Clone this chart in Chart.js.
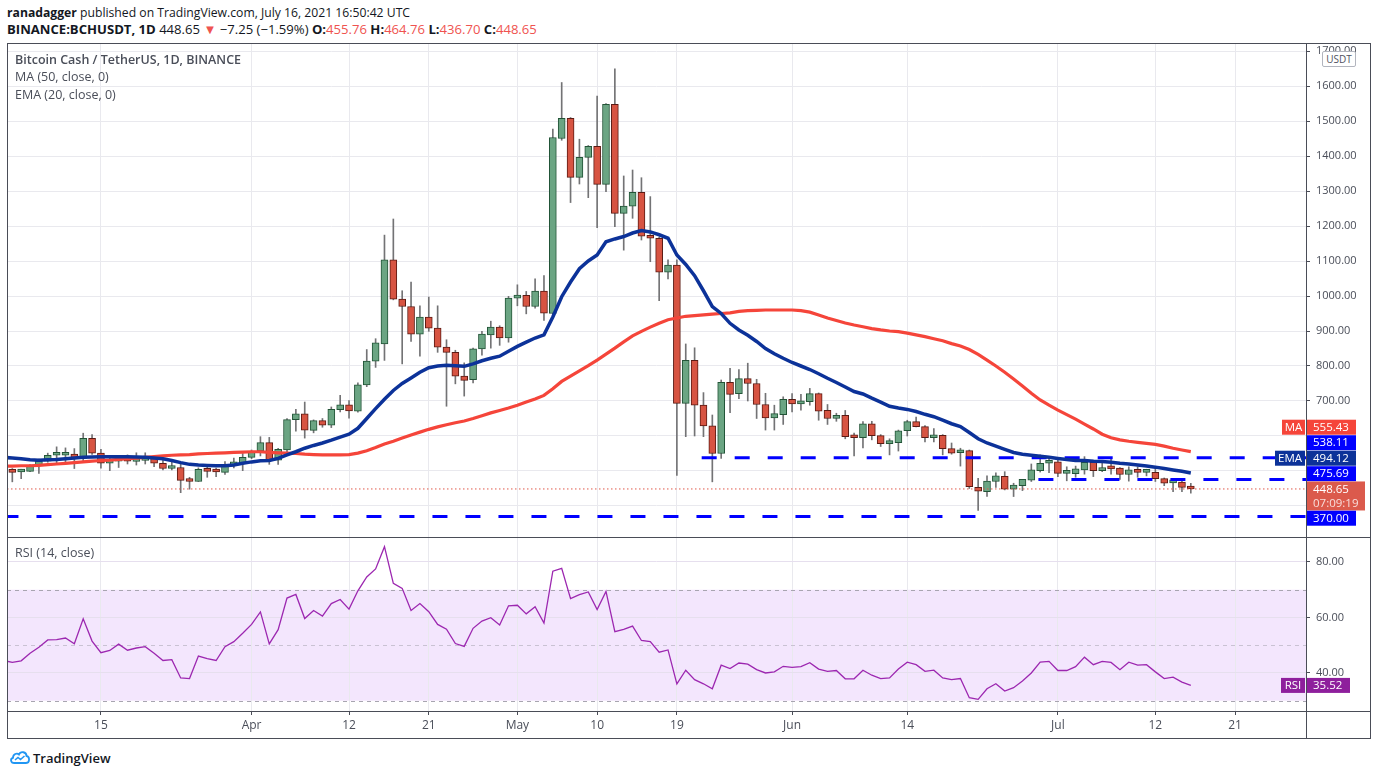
<!DOCTYPE html>
<html><head><meta charset="utf-8">
<script src="https://cdn.jsdelivr.net/npm/chart.js@4.4.1/dist/chart.umd.min.js"></script>
<style>
html,body{margin:0;padding:0;background:#fff;width:1376px;height:776px;overflow:hidden;font-family:'Open Sans',sans-serif;color:#131722;}
.abs{position:absolute;white-space:nowrap;}
.r{color:#ef5350;}
.ln{position:absolute;background:#4a4d57;}
.leg{position:absolute;left:15px;font-size:12.5px;color:#4a4e59;white-space:nowrap;}
</style></head><body>
<div class="abs" style="left:7px;top:4px;font-size:12.2px;"><b>ranadagger</b> published on TradingView.com, July 16, 2021 16:50:42 UTC</div>
<div class="abs" style="left:7px;top:20px;font-size:13.1px;"><b>BINANCE:BCHUSDT, 1D</b> 448.65 <span class="r">▼</span> −7.25 (−1.59%) <b>O:</b><span class="r">455.76</span> <b>H:</b><span class="r">464.76</span> <b>L:</b><span class="r">436.70</span> <b>C:</b><span class="r">448.65</span></div>

<canvas id="main" width="1363" height="494" style="position:absolute;left:7px;top:43px;"></canvas>
<canvas id="rsi" width="1363" height="201" style="position:absolute;left:7px;top:537px;"></canvas>

<div class="leg" style="top:51px;font-weight:600;">Bitcoin Cash / TetherUS, 1D, BINANCE</div>
<div class="leg" style="top:68px;">MA (50, close, 0)</div>
<div class="leg" style="top:86px;">EMA (20, close, 0)</div>
<div class="leg" style="top:544px;">RSI (14, close)</div>

<div class="abs" style="left:1322px;top:51px;width:32px;height:14px;border:1px solid #b2b5be;border-radius:2px;background:#fff;font-size:10px;line-height:14px;text-align:center;color:#50535e;">USDT</div>

<div class="ln" style="left:7px;top:43px;width:1364px;height:1px;"></div>
<div class="ln" style="left:7px;top:537px;width:1364px;height:1px;"></div>
<div class="ln" style="left:7px;top:711px;width:1364px;height:1px;"></div>
<div class="ln" style="left:7px;top:738px;width:1364px;height:1px;"></div>
<div class="ln" style="left:7px;top:43px;width:1px;height:696px;"></div>
<div class="ln" style="left:1370px;top:43px;width:1px;height:696px;"></div>
<div class="ln" style="left:1306px;top:43px;width:1px;height:696px;"></div>

<svg class="abs" style="left:9px;top:749px;" width="22" height="16" viewBox="0 0 22 16">
<path d="M5 14 C1.5 14 1 9.5 4 8.8 C4 5 8 3.5 10 5.5 C11.5 2 17.5 2.5 17.5 7 C21 7.5 21 14 17 14 Z" fill="none" stroke="#2196f3" stroke-width="1.8"/>
<path d="M6 11 L9 8.5 L11.5 10.5 L15.5 7" fill="none" stroke="#2196f3" stroke-width="1.6"/>
</svg>
<div class="abs" style="left:33px;top:749px;font-size:13px;color:#131722;font-weight:600;">TradingView</div>

<script>
// ---- data (day index 0 = 2021-03-04, one candle per day) ----
const opens = [518,505,497,499,516,528,545,545,548,536,
593,551,522,528,541,527,530,536,522,507,
510,473,470,506,500,496,516,524,539,557,
581,531,560,647,663,616,644,631,675,689,
671,746,814,863,1103,991,970,891,940,908,
854,839,771,761,849,889,911,880,994,1002,
970,1014,950,1450,1508,1339,1396,1428,1319,1548,
1236,1257,1296,1171,1165,1068,1088,693,816,688,
629,550,753,721,764,750,690,652,661,705,
692,698,721,673,650,659,600,595,635,601,
578,581,615,641,627,595,602,564,552,558,
453,441,470,485,448,458,474,501,522,526,
493,492,503,525,501,510,508,490,503,496,
496,478,466,468,455.76];
const highs = [525,507,505,518,534,551,569,566,564,608,
604,562,539,541,546,552,552,541,531,533,
522,482,509,512,508,527,537,550,560,598,
596,565,650,676,697,646,650,683,716,701,
752,847,878,1174,1220,1015,1040,972,997,972,
875,845,809,851,899,928,915,999,1032,1013,
1049,1058,1477,1610,1510,1448,1430,1571,1550,1649,
1343,1360,1338,1284,1168,1103,1103,863,852,724,
660,760,793,790,808,762,722,688,712,721,
719,736,723,690,665,673,608,641,642,604,
592,617,645,654,630,621,604,580,565,560,
479,486,495,498,465,476,520,546,541,531,
512,514,541,531,527,533,510,512,512,505,
506,480,476,474,464.76];
const lows = [500,469,478,498,493,525,519,522,507,527,
547,508,501,510,520,517,520,512,503,503,
438,448,470,482,484,490,509,501,535,543,
519,519,555,614,594,609,625,624,669,651,
668,741,796,816,989,806,870,828,899,839,
685,749,714,752,831,851,859,868,972,949,
965,930,941,1445,1267,1320,1281,1195,1298,1198,
1131,1222,1160,1098,987,1049,487,598,600,598,
469,536,667,707,700,650,617,617,633,669,
674,688,645,633,642,592,543,566,589,570,
546,557,600,626,583,583,546,548,514,450,
387,427,453,446,427,444,470,497,495,484,
472,482,491,484,498,491,476,471,482,486,
470,458,441,441,436.70];
const closes = [506,496,499,516,528,545,546,549,535,593,
551,522,529,539,528,530,536,522,507,510,
473,470,505,499,497,517,526,539,556,581,
531,562,647,663,617,644,631,676,689,672,
746,814,866,1103,991,970,891,940,908,854,
839,771,759,849,891,911,880,994,1002,970,
1014,951,1453,1508,1339,1396,1428,1319,1548,1236,
1257,1296,1171,1165,1068,1088,693,816,688,629,
550,753,719,764,750,690,652,664,705,692,
699,721,671,650,659,598,595,635,601,578,
581,615,641,627,595,602,564,551,558,455,
442,471,486,448,460,476,503,522,526,493,
496,506,525,501,510,506,490,503,496,498,
478,465,468,453,448.65];
const ma50 = [514,514,515,515,516,518,520,522,524,526,
528,530,531,533,535,537,539,541,543,545,
546,547,549,550,551,552,553,554,555,555,
553,552,551,550,548,547,546,546,546,547,
551,558,567,577,585,594,603,611,619,626,
632,638,643,650,658,666,673,680,688,697,
706,716,735,756,771,786,801,817,834,851,
869,886,899,911,922,932,937,942,944,946,
948,950,952,956,958,959,960,960,960,960,
958,954,946,937,930,923,917,912,907,903,
900,898,894,889,884,878,872,864,857,847,
833,817,800,782,763,743,722,703,688,674,
661,648,634,620,605,595,589,585,582,579,
576,571,565,560,555.43];
const ema20 = [539,537,535,532,531,532,533,535,537,539,
540,541,541,541,541,540,539,537,535,530,
524,519,517,516,515,515,517,522,526,529,
530,536,546,555,565,573,580,588,597,605,
622,650,678,705,730,750,766,782,795,800,
802,801,799,806,815,822,828,842,856,868,
880,889,940,998,1040,1078,1100,1117,1155,1163,
1170,1180,1187,1183,1175,1165,1117,1090,1058,1015,
970,950,922,903,888,870,850,835,822,810,
800,790,778,765,753,740,727,720,708,697,
685,680,676,670,662,655,645,635,627,610,
592,580,571,562,553,548,545,542,539,536,
533,530,530,528,527,525,522,520,517,514,
511,507,503,499,494.12];
const rsi14 = [44.5,43.8,44.4,47.1,49.3,51.9,52.0,52.6,50.5,59.5,
51.5,47.3,48.1,50.4,48.2,49.0,49.5,47.1,44.5,44.8,
38.2,38.0,46.1,45.2,44.5,49.5,51.3,54.3,57.5,62.0,
50.5,55.6,67.0,68.3,59.6,62.5,60.5,65.0,66.5,63.0,
69.6,74.6,77.5,85.5,72.3,70.5,62.5,65.0,62.1,57.5,
55.8,50.6,49.6,56.1,58.7,59.9,57.3,64.2,64.4,61.3,
63.9,58.0,76.7,77.7,66.8,68.2,69.2,62.9,69.4,54.9,
55.7,56.9,51.7,51.3,47.5,48.3,36.1,41.0,37.6,36.1,
34.3,42.8,41.6,43.6,43.2,41.2,40.0,40.4,42.4,42.0,
42.3,43.7,41.4,40.6,40.9,37.9,37.9,41.0,39.2,38.0,
38.2,41.4,43.9,43.0,40.6,41.0,38.2,37.6,38.0,31.1,
30.5,34.3,36.1,33.5,34.7,37.1,40.0,43.9,44.2,40.9,
40.9,42.3,45.7,43.0,44.2,43.8,41.2,43.9,42.8,43.0,
40.4,38.0,38.5,36.7,35.52];
const xTickDays = [11,28,39,48,58,67,76,89,102,119,130,139];
const xTickLabels = ['15','Apr','12','21','May','10','19','Jun','14','Jul','12','21'];
const priceTicks = [400,500,600,700,800,900,1000,1100,1200,1300,1400,1500,1600,1700];
const rsiTicks = [40,60,80];
const levelValues = [538.11, 475.69, 370.00];
const levelStartDays = [78.8, 116.8, 0];
const lastPrice = 448.65;
const lastCountdown = '07:09:19';
const maLast = 555.43, emaLast = 494.12, rsiLast = 35.52;

// ---- view ----
const X_MIN = 0.4, X_MAX = 147;
const UP = '#6ba583', DOWN = '#d75442', UP_B = '#225437', DOWN_B = '#5b1a13', WICK = '#737375';
const GRID = '#e9e9ee', AXIS_TXT = '#4a4e59';
Chart.defaults.font.family = "'Open Sans', sans-serif";
Chart.defaults.animation = false;

const days = closes.map((_, i) => i);
const isUp = days.map(i => closes[i] >= opens[i]);

const xScaleBase = (showLabels) => ({
  type: 'linear', min: X_MIN, max: X_MAX, offset: false,
  afterBuildTicks: s => { s.ticks = xTickDays.map(v => ({value: v})); },
  afterFit: s => { s.height = showLabels ? 27 : 0; s.paddingLeft = 0; s.paddingRight = 0; },
  grid: {color: GRID, offset: false, drawTicks: showLabels, tickLength: 4, tickColor: '#4a4d57'},
  border: {display: showLabels, color: '#4a4d57'},
  ticks: showLabels ? {
    display: true, autoSkip: false, maxRotation: 0, color: AXIS_TXT, font: {size: 12}, padding: 3,
    callback: v => { const k = xTickDays.indexOf(v); return k >= 0 ? xTickLabels[k] : ''; }
  } : {display: false}
});

// axis tag plugin for main chart
const tagPlugin = {
  id: 'tags',
  afterDraw(chart, args, opts) {
    const {ctx, chartArea} = chart;
    const sc = chart.scales.y;
    const items = opts.items;
    const h = 15, step = 15.5;
    const c = items.map(it => sc.getPixelForValue(it.value));
    const a = items.findIndex(it => it.lines.length > 1);
    const boxH = it => it.lines.length > 1 ? 29 : h;
    const boxW = it => it.lines.length > 1 ? 58 : 49;
    const aTop = c[a] - h / 2, aBot = aTop + boxH(items[a]);
    for (let i = a - 1; i >= 0; i--) c[i] = Math.min(c[i], i === a - 1 ? aTop - step / 2 : c[i + 1] - step);
    for (let i = a + 1; i < items.length; i++) c[i] = Math.max(c[i], i === a + 1 ? aBot + step / 2 : c[i - 1] + step);
    const x0 = chartArea.right + 1;
    ctx.save();
    ctx.textBaseline = 'middle';
    items.forEach((it, i) => {
      const top = c[i] - h / 2;
      ctx.fillStyle = it.bg;
      ctx.fillRect(x0, top, boxW(it), boxH(it));
      ctx.font = "11.5px 'Open Sans', sans-serif";
      ctx.textAlign = 'left';
      it.lines.forEach((t, k) => {
        ctx.fillStyle = k === 0 ? '#ffffff' : 'rgba(255,255,255,0.8)';
        ctx.fillText(t, x0 + 6, c[i] + k * 14 + 0.5);
      });
      if (it.tag) {
        const tw = it.tag.length > 2 ? 31 : 24;
        ctx.fillStyle = it.bg;
        ctx.fillRect(chartArea.right - tw, top, tw - 1, h);
        ctx.fillStyle = '#ffffff';
        ctx.textAlign = 'center';
        ctx.fillText(it.tag, chartArea.right - tw / 2 - 0.5, c[i] + 0.5);
      }
    });
    ctx.restore();
  }
};

const candleData = (arrA, arrB) => days.map(i => ({x: i, y: [arrA[i], arrB[i]]}));
const lineData = arr => arr.map((v, i) => ({x: i, y: v}));

const datasets = [
  {type: 'line', label: 'EMA', data: lineData(ema20), borderColor: '#0c3299', borderWidth: 3.5, pointRadius: 0, tension: 0, order: 0},
  {type: 'line', label: 'MA', data: lineData(ma50), borderColor: '#f5453a', borderWidth: 3.2, pointRadius: 0, tension: 0, order: 0},
  {type: 'line', label: 'last', data: [{x: X_MIN, y: lastPrice}, {x: X_MAX, y: lastPrice}], borderColor: '#e0584a', borderWidth: 1, borderDash: [1.5, 2.5], pointRadius: 0, order: 0}
];
levelValues.forEach((v, k) => datasets.push({
  type: 'line', label: 'lvl' + k, data: [{x: levelStartDays[k], y: v}, {x: X_MAX, y: v}],
  borderColor: '#0000ff', borderWidth: 3, borderDash: [15, 18], pointRadius: 0, order: 0
}));
datasets.push({
  type: 'bar', label: 'body', data: candleData(opens, closes), grouped: false,
  backgroundColor: days.map(i => isUp[i] ? UP : DOWN),
  borderColor: days.map(i => isUp[i] ? UP_B : DOWN_B),
  borderWidth: 1, borderSkipped: false, barThickness: 7, minBarLength: 3, order: 1
});
datasets.push({
  type: 'bar', label: 'wick', data: candleData(lows, highs), grouped: false,
  backgroundColor: WICK, borderWidth: 0, barThickness: 1, order: 2
});

new Chart(document.getElementById('main'), {
  type: 'bar',
  data: {datasets},
  options: {
    responsive: false, events: [],
    layout: {padding: 0},
    plugins: {
      legend: {display: false}, tooltip: {enabled: false},
      tags: {items: [
        {value: maLast, bg: '#f5453a', lines: ['555.43'], tag: 'MA'},
        {value: levelValues[0], bg: '#0000ff', lines: ['538.11']},
        {value: emaLast, bg: '#0c3299', lines: ['494.12'], tag: 'EMA'},
        {value: levelValues[1], bg: '#0000ff', lines: ['475.69']},
        {value: lastPrice, bg: '#db5a4c', lines: ['448.65', lastCountdown]},
        {value: levelValues[2], bg: '#0000ff', lines: ['370.00']}
      ]}
    },
    scales: {
      x: xScaleBase(false),
      y: {
        type: 'linear', position: 'right', min: 311.4, max: 1722.9,
        afterBuildTicks: s => { s.ticks = priceTicks.map(v => ({value: v})); },
        afterFit: s => { s.width = 64; s.paddingTop = 0; s.paddingBottom = 0; },
        grid: {color: GRID, drawTicks: true, tickLength: 4, tickColor: ctx => (ctx.tick && ctx.tick.value >= 700) ? '#4a4d57' : 'rgba(0,0,0,0)'},
        border: {display: true, color: '#4a4d57'},
        ticks: {color: AXIS_TXT, font: {size: 11}, padding: 6, callback: v => v >= 700 ? v.toFixed(2) : ''}
      }
    }
  },
  plugins: [tagPlugin]
});

// RSI chart
const rsiPlugin = {
  id: 'rsiBand',
  beforeDraw(chart) {
    const {ctx, chartArea: a} = chart; const y = chart.scales.y;
    ctx.save();
    ctx.fillStyle = '#f3e6fd';
    const t = y.getPixelForValue(70), b = y.getPixelForValue(30);
    ctx.fillRect(a.left, t, a.right - a.left, b - t);
    ctx.restore();
  },
  beforeDatasetsDraw(chart) {
    const {ctx, chartArea: a} = chart; const y = chart.scales.y;
    ctx.save();
    ctx.setLineDash([4, 4]);
    ctx.lineWidth = 1;
    [[70, '#a8a5b0'], [50, '#c9c2d3'], [30, '#a8a5b0']].forEach(([v, col]) => {
      const py = Math.round(y.getPixelForValue(v)) + 0.5;
      ctx.strokeStyle = col;
      ctx.beginPath(); ctx.moveTo(a.left, py); ctx.lineTo(a.right, py); ctx.stroke();
    });
    ctx.restore();
  },
  afterDraw(chart) {
    const {ctx, chartArea: a} = chart; const y = chart.scales.y;
    const cy = y.getPixelForValue(rsiLast);
    ctx.save();
    ctx.fillStyle = '#8e1f9c';
    ctx.fillRect(a.right + 1, cy - 7.5, 43, 15);
    ctx.fillRect(a.right - 25, cy - 7.5, 24, 15);
    ctx.fillStyle = '#fff';
    ctx.textBaseline = 'middle';
    ctx.font = "11.5px 'Open Sans', sans-serif";
    ctx.textAlign = 'left';
    ctx.fillText(rsiLast.toFixed(2), a.right + 7, cy + 0.5);
    ctx.textAlign = 'center';
    ctx.fillText('RSI', a.right - 13, cy + 0.5);
    ctx.restore();
  }
};

new Chart(document.getElementById('rsi'), {
  type: 'line',
  data: {datasets: [{data: lineData(rsi14), borderColor: '#9c27b0', borderWidth: 1.3, pointRadius: 0, tension: 0}]},
  options: {
    responsive: false, events: [],
    layout: {padding: 0},
    plugins: {legend: {display: false}, tooltip: {enabled: false}},
    scales: {
      x: xScaleBase(true),
      y: {
        type: 'linear', position: 'right', min: 26.3, max: 89,
        afterBuildTicks: s => { s.ticks = rsiTicks.map(v => ({value: v})); },
        afterFit: s => { s.width = 64; s.paddingTop = 0; s.paddingBottom = 0; },
        grid: {color: '#e6dfee', drawTicks: true, tickLength: 4, tickColor: '#4a4d57'},
        border: {display: true, color: '#4a4d57'},
        ticks: {color: AXIS_TXT, font: {size: 11}, padding: 6, callback: v => v.toFixed(2)}
      }
    }
  },
  plugins: [rsiPlugin]
});
</script>
</body></html>
